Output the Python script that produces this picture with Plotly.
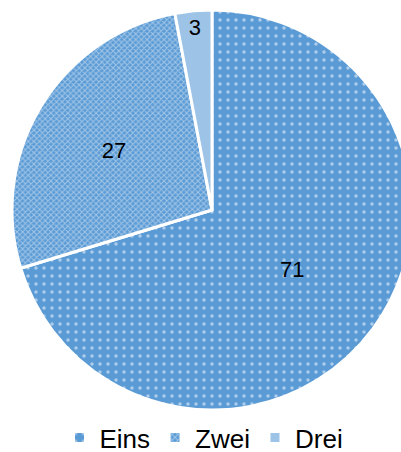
import plotly.graph_objects as go

labels = ["Eins", "Zwei", "Drei"]
values = [71, 27, 3]
colors = ["#5B9BD5", "#8FB8E2", "#9DC3E6"]

W, H = 425, 470

fig = go.Figure(go.Pie(
    labels=labels,
    values=values,
    sort=False,
    direction="clockwise",
    rotation=0,
    textinfo="value",
    textposition="inside",
    insidetextorientation="horizontal",
    textfont=dict(family="Liberation Sans, Arial", size=22, color="#000000"),
    marker=dict(
        colors=colors,
        line=dict(color="#FFFFFF", width=3),
        pattern=dict(
            shape=[".", "x", ""],
            fgcolor=["#FFFFFF", "#E8F1FA", "#9DC3E6"],
            bgcolor=["#5B9BD5", "#5B9BD5", "#9DC3E6"],
            size=[8, 4, 8],
            solidity=[0.15, 0.45, 0.3],
            fillmode="overlay",
        ),
    ),
    domain=dict(x=[12 / W, 412 / W], y=[(H - 410) / H, (H - 10) / H]),
    hoverinfo="label+value",
))

fig.update_layout(
    width=W,
    height=H,
    margin=dict(l=0, r=0, t=0, b=0, autoexpand=False),
    paper_bgcolor="#FFFFFF",
    plot_bgcolor="#FFFFFF",
    font=dict(family="Liberation Sans, Arial", color="#000000"),
    showlegend=True,
    legend=dict(
        orientation="h",
        x=204 / W,
        xanchor="center",
        y=9 / H,
        yanchor="bottom",
        font=dict(size=26, color="#000000"),
        itemwidth=30,
        traceorder="normal",
    ),
)

fig.write_html(
    "out.html",
    config={"displayModeBar": False},
    post_script=(
        "document.body.style.margin='0';"
        "document.body.style.overflow='hidden';"
        "document.documentElement.style.overflow='hidden';"
    ),
)
